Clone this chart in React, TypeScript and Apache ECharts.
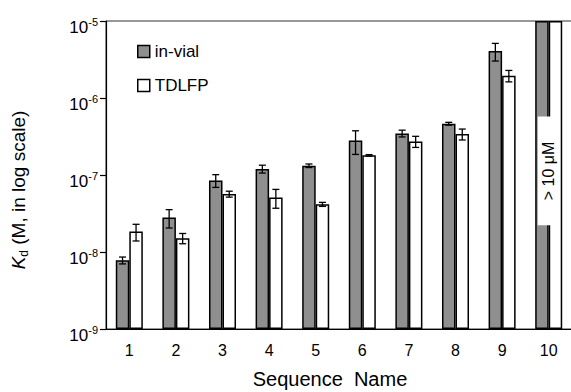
import React, { useEffect, useRef } from "react";
import * as echarts from "echarts";

const categories = ["1", "2", "3", "4", "5", "6", "7", "8", "9", "10"];
const inVial = [7.8e-9, 2.8e-8, 8.5e-8, 1.2e-7, 1.32e-7, 2.8e-7, 3.47e-7, 4.63e-7, 4.07e-6, 1e-5];
const inVialErr = [0.8e-9, 0.75e-8, 1.6e-8, 1.4e-8, 0.07e-7, 0.95e-7, 0.35e-7, 0.2e-7, 1.05e-6, 0];
const tdlfp = [1.84e-8, 1.51e-8, 5.66e-8, 5.1e-8, 4.16e-8, 1.8e-7, 2.73e-7, 3.4e-7, 1.95e-6, 1e-5];
const tdlfpErr = [0.45e-8, 0.23e-8, 0.5e-8, 1.4e-8, 0.25e-8, 0.04e-7, 0.45e-7, 0.55e-7, 0.33e-6, 0];
const yTicks = [1e-9, 1e-8, 1e-7, 1e-6, 1e-5];
const annotation = { category: "10", value: 1.13e-7, text: "> 10 μM" };

const FONT = "Liberation Sans, Arial, Helvetica, sans-serif";

export default function App() {
  const ref = useRef<HTMLDivElement>(null);
  useEffect(() => {
    if (!ref.current) return;
    const chart = echarts.init(ref.current, null, { renderer: "svg" });
    const errData: any[] = [];
    inVial.forEach((v, i) => {
      if (inVialErr[i] > 0) errData.push([i, v - inVialErr[i], v + inVialErr[i], 0]);
    });
    tdlfp.forEach((v, i) => {
      if (tdlfpErr[i] > 0) errData.push([i, v - tdlfpErr[i], v + tdlfpErr[i], 1]);
    });
    const barFrac = 0.29;
    chart.setOption({
      animation: false,
      textStyle: { fontFamily: FONT },
      grid: {
        left: 106,
        top: 21,
        width: 466,
        height: 308,
        containLabel: false,
        outerBoundsMode: "none",
        show: true,
        borderColor: "#333",
        borderWidth: 1,
        backgroundColor: "transparent",
      },
      legend: {
        data: ["in-vial", "TDLFP"],
        orient: "vertical",
        left: 132,
        top: 38,
        itemWidth: 12,
        itemHeight: 12,
        itemGap: 17,
        icon: "rect",
        itemStyle: { borderColor: "#000", borderWidth: 1.5 },
        textStyle: { fontSize: 17, color: "#000", fontFamily: FONT, padding: [0, 0, 0, 0] },
      },
      xAxis: {
        type: "category",
        data: categories,
        axisLine: { lineStyle: { color: "#000", width: 1.2 } },
        axisTick: { show: false },
        axisLabel: { fontSize: 16, color: "#000", margin: 13, fontFamily: FONT },
        name: "Sequence  Name",
        nameLocation: "middle",
        nameGap: 40,
        nameTextStyle: { fontSize: 20, color: "#000", fontFamily: FONT, padding: [0, 18, 0, 0] },
      },
      yAxis: {
        type: "log",
        logBase: 10,
        min: yTicks[0],
        max: yTicks[yTicks.length - 1],
        startValue: yTicks[0],
        splitLine: { show: false },
        minorTick: { show: false },
        axisLine: { show: true, lineStyle: { color: "#000", width: 1.2 } },
        axisTick: { show: true, inside: false, length: 6, lineStyle: { color: "#000", width: 1.2 } },
        axisLabel: {
          margin: 8,
          padding: [10, 0, 0, 0],
          formatter: (v: number) => `{b|10}{s|${Math.round(Math.log10(v))}}`,
          rich: {
            b: { fontSize: 17, lineHeight: 20, verticalAlign: "bottom", color: "#000", fontFamily: FONT },
            s: { fontSize: 11, lineHeight: 11, verticalAlign: "top", color: "#000", fontFamily: FONT },
          },
        },
        name: "{k|K}{d|d}{t| (M, in log scale)}",
        nameLocation: "middle",
        nameRotate: 90,
        nameGap: 76,
        nameTextStyle: {
          padding: [0, 30, 0, 0],
          rich: {
            k: { fontSize: 19, fontStyle: "italic", color: "#000", fontFamily: FONT, lineHeight: 24, verticalAlign: "middle" },
            d: { fontSize: 12, color: "#000", fontFamily: FONT, lineHeight: 12, verticalAlign: "bottom" },
            t: { fontSize: 19, color: "#000", fontFamily: FONT, lineHeight: 24, verticalAlign: "middle" },
          },
        },
      },
      series: [
        {
          name: "in-vial",
          type: "bar",
          data: inVial,
          barWidth: `${barFrac * 100}%`,
          barGap: "0%",
          itemStyle: { color: "#8f8f8f", borderColor: "#000", borderWidth: 1.5 },
        },
        {
          name: "TDLFP",
          type: "bar",
          data: tdlfp,
          barWidth: `${barFrac * 100}%`,
          barGap: "0%",
          itemStyle: { color: "#fff", borderColor: "#000", borderWidth: 1.5 },
        },
        {
          name: "annotation",
          type: "scatter",
          z: 20,
          symbolSize: 0,
          itemStyle: { opacity: 1 },
          data: [[annotation.category, annotation.value]],
          label: {
            show: true,
            position: "inside",
            rotate: 90,
            opacity: 1,
            formatter: annotation.text,
            backgroundColor: "#ffffff",
            padding: [3, 25, 3, 25],
            fontSize: 16,
            lineHeight: 16,
            color: "#000",
            fontFamily: FONT,
          },
        },
        {
          name: "err",
          type: "custom",
          z: 10,
          data: errData,
          encode: { x: 0, y: [1, 2] },
          renderItem: (params: any, api: any) => {
            const idx = api.value(0);
            const lo = api.value(1);
            const hi = api.value(2);
            const side = api.value(3);
            const pLo = api.coord([idx, lo]);
            const pHi = api.coord([idx, hi]);
            const bw = api.size([1, 0])[0] * barFrac;
            const cx = pLo[0] + (side === 0 ? -bw / 2 : bw / 2);
            const cap = 3.5;
            const st = { stroke: "#000", lineWidth: 1.3 };
            return {
              type: "group",
              children: [
                { type: "line", shape: { x1: cx, y1: pLo[1], x2: cx, y2: pHi[1] }, style: st },
                { type: "line", shape: { x1: cx - cap, y1: pLo[1], x2: cx + cap, y2: pLo[1] }, style: st },
                { type: "line", shape: { x1: cx - cap, y1: pHi[1], x2: cx + cap, y2: pHi[1] }, style: st },
              ],
            };
          },
        },
      ],
    });
    return () => chart.dispose();
  }, []);
  return (
    <div
      ref={ref}
      style={{ position: "fixed", left: 0, top: 0, width: 571, height: 392, background: "#fff" }}
    />
  );
}
